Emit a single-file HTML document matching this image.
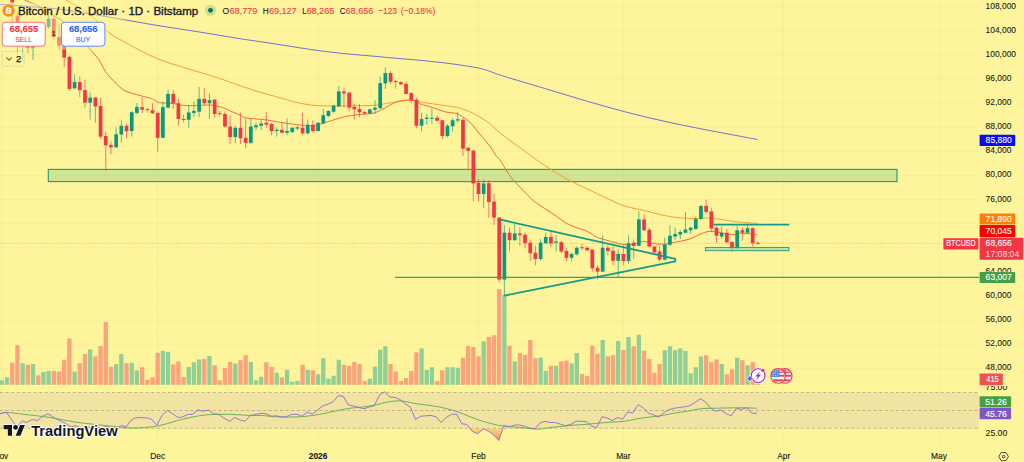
<!DOCTYPE html>
<html lang="en"><head><meta charset="utf-8"><title>BTCUSD chart</title>
<style>html,body{margin:0;padding:0;background:#fef49b;overflow:hidden}svg{display:block}text{white-space:pre}</style>
</head><body>
<svg width="1024" height="462" viewBox="0 0 1024 462" font-family='"Liberation Sans", sans-serif'>
<rect width="1024" height="462" fill="#fef49b"/>
<line x1="0" x2="979.3" y1="368.40" y2="368.40" stroke="rgba(120,100,0,0.06)" stroke-width="0.8"/>
<line x1="0" x2="979.3" y1="344.28" y2="344.28" stroke="rgba(120,100,0,0.06)" stroke-width="0.8"/>
<line x1="0" x2="979.3" y1="320.16" y2="320.16" stroke="rgba(120,100,0,0.06)" stroke-width="0.8"/>
<line x1="0" x2="979.3" y1="296.04" y2="296.04" stroke="rgba(120,100,0,0.06)" stroke-width="0.8"/>
<line x1="0" x2="979.3" y1="271.92" y2="271.92" stroke="rgba(120,100,0,0.06)" stroke-width="0.8"/>
<line x1="0" x2="979.3" y1="247.80" y2="247.80" stroke="rgba(120,100,0,0.06)" stroke-width="0.8"/>
<line x1="0" x2="979.3" y1="223.68" y2="223.68" stroke="rgba(120,100,0,0.06)" stroke-width="0.8"/>
<line x1="0" x2="979.3" y1="199.56" y2="199.56" stroke="rgba(120,100,0,0.06)" stroke-width="0.8"/>
<line x1="0" x2="979.3" y1="175.44" y2="175.44" stroke="rgba(120,100,0,0.06)" stroke-width="0.8"/>
<line x1="0" x2="979.3" y1="151.32" y2="151.32" stroke="rgba(120,100,0,0.06)" stroke-width="0.8"/>
<line x1="0" x2="979.3" y1="127.20" y2="127.20" stroke="rgba(120,100,0,0.06)" stroke-width="0.8"/>
<line x1="0" x2="979.3" y1="103.08" y2="103.08" stroke="rgba(120,100,0,0.06)" stroke-width="0.8"/>
<line x1="0" x2="979.3" y1="78.96" y2="78.96" stroke="rgba(120,100,0,0.06)" stroke-width="0.8"/>
<line x1="0" x2="979.3" y1="54.84" y2="54.84" stroke="rgba(120,100,0,0.06)" stroke-width="0.8"/>
<line x1="0" x2="979.3" y1="30.72" y2="30.72" stroke="rgba(120,100,0,0.06)" stroke-width="0.8"/>
<line x1="0" x2="979.3" y1="6.60" y2="6.60" stroke="rgba(120,100,0,0.06)" stroke-width="0.8"/>
<line x1="1.85" x2="1.85" y1="0" y2="446" stroke="rgba(120,100,0,0.06)" stroke-width="0.8"/>
<line x1="157.70" x2="157.70" y1="0" y2="446" stroke="rgba(120,100,0,0.06)" stroke-width="0.8"/>
<line x1="318.09" x2="318.09" y1="0" y2="446" stroke="rgba(120,100,0,0.06)" stroke-width="0.8"/>
<line x1="478.49" x2="478.49" y1="0" y2="446" stroke="rgba(120,100,0,0.06)" stroke-width="0.8"/>
<line x1="623.36" x2="623.36" y1="0" y2="446" stroke="rgba(120,100,0,0.06)" stroke-width="0.8"/>
<line x1="783.75" x2="783.75" y1="0" y2="446" stroke="rgba(120,100,0,0.06)" stroke-width="0.8"/>
<line x1="938.97" x2="938.97" y1="0" y2="446" stroke="rgba(120,100,0,0.06)" stroke-width="0.8"/>
<rect x="0" y="392.5" width="979.3" height="35.8" fill="#e9d9a6" fill-opacity="0.62"/>
<line x1="0" x2="979.3" y1="392.50" y2="392.50" stroke="#96927b" stroke-width="0.6" stroke-dasharray="3 2.6"/>
<line x1="0" x2="979.3" y1="410.50" y2="410.50" stroke="#96927b" stroke-width="0.6" stroke-dasharray="3 2.6"/>
<line x1="0" x2="979.3" y1="428.30" y2="428.30" stroke="#96927b" stroke-width="0.6" stroke-dasharray="3 2.6"/>
<rect x="-0.30" y="380.32" width="4.3" height="4.48" fill="#22ab94" fill-opacity="0.5"/>
<rect x="4.89" y="377.31" width="4.3" height="7.49" fill="#22ab94" fill-opacity="0.5"/>
<rect x="10.09" y="362.75" width="4.3" height="22.05" fill="#f7525f" fill-opacity="0.5"/>
<rect x="15.28" y="345.18" width="4.3" height="39.62" fill="#f7525f" fill-opacity="0.5"/>
<rect x="20.48" y="363.25" width="4.3" height="21.55" fill="#22ab94" fill-opacity="0.5"/>
<rect x="25.67" y="364.76" width="4.3" height="20.04" fill="#f7525f" fill-opacity="0.5"/>
<rect x="30.87" y="364.01" width="4.3" height="20.79" fill="#22ab94" fill-opacity="0.5"/>
<rect x="36.06" y="375.30" width="4.3" height="9.50" fill="#f7525f" fill-opacity="0.5"/>
<rect x="41.26" y="372.04" width="4.3" height="12.76" fill="#22ab94" fill-opacity="0.5"/>
<rect x="46.45" y="371.03" width="4.3" height="13.77" fill="#22ab94" fill-opacity="0.5"/>
<rect x="51.65" y="371.03" width="4.3" height="13.77" fill="#f7525f" fill-opacity="0.5"/>
<rect x="56.84" y="371.54" width="4.3" height="13.26" fill="#f7525f" fill-opacity="0.5"/>
<rect x="62.04" y="359.74" width="4.3" height="25.06" fill="#f7525f" fill-opacity="0.5"/>
<rect x="67.23" y="338.40" width="4.3" height="46.40" fill="#f7525f" fill-opacity="0.5"/>
<rect x="72.43" y="371.54" width="4.3" height="13.26" fill="#22ab94" fill-opacity="0.5"/>
<rect x="77.62" y="363.25" width="4.3" height="21.55" fill="#f7525f" fill-opacity="0.5"/>
<rect x="82.82" y="353.97" width="4.3" height="30.83" fill="#f7525f" fill-opacity="0.5"/>
<rect x="88.01" y="349.45" width="4.3" height="35.35" fill="#22ab94" fill-opacity="0.5"/>
<rect x="93.21" y="356.48" width="4.3" height="28.32" fill="#f7525f" fill-opacity="0.5"/>
<rect x="98.40" y="345.93" width="4.3" height="38.87" fill="#f7525f" fill-opacity="0.5"/>
<rect x="103.60" y="322.09" width="4.3" height="62.71" fill="#f7525f" fill-opacity="0.5"/>
<rect x="108.79" y="366.77" width="4.3" height="18.03" fill="#f7525f" fill-opacity="0.5"/>
<rect x="113.99" y="364.01" width="4.3" height="20.79" fill="#22ab94" fill-opacity="0.5"/>
<rect x="119.18" y="353.97" width="4.3" height="30.83" fill="#22ab94" fill-opacity="0.5"/>
<rect x="124.38" y="363.25" width="4.3" height="21.55" fill="#f7525f" fill-opacity="0.5"/>
<rect x="129.57" y="362.75" width="4.3" height="22.05" fill="#22ab94" fill-opacity="0.5"/>
<rect x="134.77" y="370.28" width="4.3" height="14.52" fill="#22ab94" fill-opacity="0.5"/>
<rect x="139.96" y="367.27" width="4.3" height="17.53" fill="#f7525f" fill-opacity="0.5"/>
<rect x="145.16" y="379.82" width="4.3" height="4.98" fill="#f7525f" fill-opacity="0.5"/>
<rect x="150.35" y="377.31" width="4.3" height="7.49" fill="#f7525f" fill-opacity="0.5"/>
<rect x="155.55" y="352.96" width="4.3" height="31.84" fill="#f7525f" fill-opacity="0.5"/>
<rect x="160.72" y="350.95" width="4.3" height="33.85" fill="#22ab94" fill-opacity="0.5"/>
<rect x="165.90" y="351.96" width="4.3" height="32.84" fill="#22ab94" fill-opacity="0.5"/>
<rect x="171.07" y="364.51" width="4.3" height="20.29" fill="#f7525f" fill-opacity="0.5"/>
<rect x="176.25" y="361.50" width="4.3" height="23.30" fill="#f7525f" fill-opacity="0.5"/>
<rect x="181.42" y="377.06" width="4.3" height="7.74" fill="#f7525f" fill-opacity="0.5"/>
<rect x="186.59" y="367.02" width="4.3" height="17.78" fill="#22ab94" fill-opacity="0.5"/>
<rect x="191.77" y="362.25" width="4.3" height="22.55" fill="#22ab94" fill-opacity="0.5"/>
<rect x="196.94" y="359.49" width="4.3" height="25.31" fill="#22ab94" fill-opacity="0.5"/>
<rect x="202.12" y="358.99" width="4.3" height="25.81" fill="#f7525f" fill-opacity="0.5"/>
<rect x="207.29" y="355.97" width="4.3" height="28.83" fill="#22ab94" fill-opacity="0.5"/>
<rect x="212.46" y="365.26" width="4.3" height="19.54" fill="#f7525f" fill-opacity="0.5"/>
<rect x="217.64" y="380.32" width="4.3" height="4.48" fill="#f7525f" fill-opacity="0.5"/>
<rect x="222.81" y="368.02" width="4.3" height="16.78" fill="#f7525f" fill-opacity="0.5"/>
<rect x="227.99" y="362.00" width="4.3" height="22.80" fill="#f7525f" fill-opacity="0.5"/>
<rect x="233.16" y="363.50" width="4.3" height="21.30" fill="#22ab94" fill-opacity="0.5"/>
<rect x="238.33" y="360.24" width="4.3" height="24.56" fill="#f7525f" fill-opacity="0.5"/>
<rect x="243.51" y="355.22" width="4.3" height="29.58" fill="#f7525f" fill-opacity="0.5"/>
<rect x="248.68" y="362.00" width="4.3" height="22.80" fill="#22ab94" fill-opacity="0.5"/>
<rect x="253.86" y="380.32" width="4.3" height="4.48" fill="#22ab94" fill-opacity="0.5"/>
<rect x="259.03" y="376.81" width="4.3" height="7.99" fill="#22ab94" fill-opacity="0.5"/>
<rect x="264.20" y="362.25" width="4.3" height="22.55" fill="#f7525f" fill-opacity="0.5"/>
<rect x="269.38" y="367.02" width="4.3" height="17.78" fill="#f7525f" fill-opacity="0.5"/>
<rect x="274.55" y="372.79" width="4.3" height="12.01" fill="#22ab94" fill-opacity="0.5"/>
<rect x="279.73" y="377.31" width="4.3" height="7.49" fill="#f7525f" fill-opacity="0.5"/>
<rect x="284.90" y="369.78" width="4.3" height="15.02" fill="#22ab94" fill-opacity="0.5"/>
<rect x="290.07" y="381.58" width="4.3" height="3.22" fill="#22ab94" fill-opacity="0.5"/>
<rect x="295.25" y="380.82" width="4.3" height="3.98" fill="#22ab94" fill-opacity="0.5"/>
<rect x="300.42" y="364.76" width="4.3" height="20.04" fill="#f7525f" fill-opacity="0.5"/>
<rect x="305.60" y="369.78" width="4.3" height="15.02" fill="#22ab94" fill-opacity="0.5"/>
<rect x="310.77" y="370.28" width="4.3" height="14.52" fill="#f7525f" fill-opacity="0.5"/>
<rect x="315.94" y="374.30" width="4.3" height="10.50" fill="#22ab94" fill-opacity="0.5"/>
<rect x="321.12" y="358.23" width="4.3" height="26.57" fill="#22ab94" fill-opacity="0.5"/>
<rect x="326.29" y="378.56" width="4.3" height="6.24" fill="#22ab94" fill-opacity="0.5"/>
<rect x="331.47" y="375.80" width="4.3" height="9.00" fill="#22ab94" fill-opacity="0.5"/>
<rect x="336.64" y="359.74" width="4.3" height="25.06" fill="#22ab94" fill-opacity="0.5"/>
<rect x="341.81" y="364.76" width="4.3" height="20.04" fill="#f7525f" fill-opacity="0.5"/>
<rect x="346.99" y="366.01" width="4.3" height="18.79" fill="#f7525f" fill-opacity="0.5"/>
<rect x="352.16" y="362.00" width="4.3" height="22.80" fill="#f7525f" fill-opacity="0.5"/>
<rect x="357.34" y="364.01" width="4.3" height="20.79" fill="#f7525f" fill-opacity="0.5"/>
<rect x="362.51" y="381.07" width="4.3" height="3.73" fill="#f7525f" fill-opacity="0.5"/>
<rect x="367.68" y="378.56" width="4.3" height="6.24" fill="#22ab94" fill-opacity="0.5"/>
<rect x="372.86" y="366.77" width="4.3" height="18.03" fill="#22ab94" fill-opacity="0.5"/>
<rect x="378.03" y="349.70" width="4.3" height="35.10" fill="#22ab94" fill-opacity="0.5"/>
<rect x="383.21" y="346.18" width="4.3" height="38.62" fill="#22ab94" fill-opacity="0.5"/>
<rect x="388.38" y="364.01" width="4.3" height="20.79" fill="#f7525f" fill-opacity="0.5"/>
<rect x="393.55" y="371.54" width="4.3" height="13.26" fill="#f7525f" fill-opacity="0.5"/>
<rect x="398.73" y="381.07" width="4.3" height="3.73" fill="#f7525f" fill-opacity="0.5"/>
<rect x="403.90" y="378.06" width="4.3" height="6.74" fill="#f7525f" fill-opacity="0.5"/>
<rect x="409.08" y="371.03" width="4.3" height="13.77" fill="#f7525f" fill-opacity="0.5"/>
<rect x="414.25" y="352.46" width="4.3" height="32.34" fill="#f7525f" fill-opacity="0.5"/>
<rect x="419.42" y="348.44" width="4.3" height="36.36" fill="#22ab94" fill-opacity="0.5"/>
<rect x="424.60" y="370.03" width="4.3" height="14.77" fill="#22ab94" fill-opacity="0.5"/>
<rect x="429.77" y="367.27" width="4.3" height="17.53" fill="#22ab94" fill-opacity="0.5"/>
<rect x="434.95" y="381.07" width="4.3" height="3.73" fill="#f7525f" fill-opacity="0.5"/>
<rect x="440.12" y="370.28" width="4.3" height="14.52" fill="#f7525f" fill-opacity="0.5"/>
<rect x="445.29" y="367.27" width="4.3" height="17.53" fill="#22ab94" fill-opacity="0.5"/>
<rect x="450.47" y="367.27" width="4.3" height="17.53" fill="#22ab94" fill-opacity="0.5"/>
<rect x="455.64" y="367.77" width="4.3" height="17.03" fill="#22ab94" fill-opacity="0.5"/>
<rect x="460.82" y="357.73" width="4.3" height="27.07" fill="#f7525f" fill-opacity="0.5"/>
<rect x="465.99" y="345.93" width="4.3" height="38.87" fill="#f7525f" fill-opacity="0.5"/>
<rect x="471.16" y="347.03" width="4.3" height="37.77" fill="#f7525f" fill-opacity="0.5"/>
<rect x="476.34" y="356.32" width="4.3" height="28.48" fill="#f7525f" fill-opacity="0.5"/>
<rect x="481.51" y="341.26" width="4.3" height="43.54" fill="#22ab94" fill-opacity="0.5"/>
<rect x="486.69" y="336.99" width="4.3" height="47.81" fill="#f7525f" fill-opacity="0.5"/>
<rect x="491.86" y="335.24" width="4.3" height="49.56" fill="#f7525f" fill-opacity="0.5"/>
<rect x="497.03" y="289.05" width="4.3" height="95.75" fill="#f7525f" fill-opacity="0.5"/>
<rect x="502.21" y="294.83" width="4.3" height="89.97" fill="#22ab94" fill-opacity="0.5"/>
<rect x="507.38" y="345.78" width="4.3" height="39.02" fill="#f7525f" fill-opacity="0.5"/>
<rect x="512.56" y="361.34" width="4.3" height="23.46" fill="#22ab94" fill-opacity="0.5"/>
<rect x="517.73" y="353.06" width="4.3" height="31.74" fill="#f7525f" fill-opacity="0.5"/>
<rect x="522.90" y="354.82" width="4.3" height="29.98" fill="#f7525f" fill-opacity="0.5"/>
<rect x="528.08" y="340.01" width="4.3" height="44.79" fill="#f7525f" fill-opacity="0.5"/>
<rect x="533.25" y="358.33" width="4.3" height="26.47" fill="#f7525f" fill-opacity="0.5"/>
<rect x="538.43" y="357.58" width="4.3" height="27.22" fill="#22ab94" fill-opacity="0.5"/>
<rect x="543.60" y="370.88" width="4.3" height="13.92" fill="#22ab94" fill-opacity="0.5"/>
<rect x="548.77" y="365.86" width="4.3" height="18.94" fill="#f7525f" fill-opacity="0.5"/>
<rect x="553.95" y="365.86" width="4.3" height="18.94" fill="#22ab94" fill-opacity="0.5"/>
<rect x="559.12" y="361.34" width="4.3" height="23.46" fill="#f7525f" fill-opacity="0.5"/>
<rect x="564.30" y="360.59" width="4.3" height="24.21" fill="#f7525f" fill-opacity="0.5"/>
<rect x="569.47" y="363.35" width="4.3" height="21.45" fill="#22ab94" fill-opacity="0.5"/>
<rect x="574.64" y="353.06" width="4.3" height="31.74" fill="#22ab94" fill-opacity="0.5"/>
<rect x="579.82" y="374.14" width="4.3" height="10.66" fill="#f7525f" fill-opacity="0.5"/>
<rect x="584.99" y="375.90" width="4.3" height="8.90" fill="#f7525f" fill-opacity="0.5"/>
<rect x="590.17" y="345.53" width="4.3" height="39.27" fill="#f7525f" fill-opacity="0.5"/>
<rect x="595.34" y="353.81" width="4.3" height="30.99" fill="#f7525f" fill-opacity="0.5"/>
<rect x="600.51" y="340.01" width="4.3" height="44.79" fill="#22ab94" fill-opacity="0.5"/>
<rect x="605.69" y="356.32" width="4.3" height="28.48" fill="#f7525f" fill-opacity="0.5"/>
<rect x="610.86" y="355.07" width="4.3" height="29.73" fill="#f7525f" fill-opacity="0.5"/>
<rect x="616.04" y="341.01" width="4.3" height="43.79" fill="#22ab94" fill-opacity="0.5"/>
<rect x="621.21" y="350.05" width="4.3" height="34.75" fill="#f7525f" fill-opacity="0.5"/>
<rect x="626.38" y="336.99" width="4.3" height="47.81" fill="#22ab94" fill-opacity="0.5"/>
<rect x="631.56" y="346.28" width="4.3" height="38.52" fill="#f7525f" fill-opacity="0.5"/>
<rect x="636.73" y="334.73" width="4.3" height="50.07" fill="#22ab94" fill-opacity="0.5"/>
<rect x="641.91" y="350.80" width="4.3" height="34.00" fill="#f7525f" fill-opacity="0.5"/>
<rect x="647.08" y="358.99" width="4.3" height="25.81" fill="#f7525f" fill-opacity="0.5"/>
<rect x="652.25" y="372.79" width="4.3" height="12.01" fill="#f7525f" fill-opacity="0.5"/>
<rect x="657.43" y="364.01" width="4.3" height="20.79" fill="#f7525f" fill-opacity="0.5"/>
<rect x="662.60" y="350.20" width="4.3" height="34.60" fill="#22ab94" fill-opacity="0.5"/>
<rect x="667.78" y="346.18" width="4.3" height="38.62" fill="#22ab94" fill-opacity="0.5"/>
<rect x="672.95" y="350.20" width="4.3" height="34.60" fill="#22ab94" fill-opacity="0.5"/>
<rect x="678.12" y="348.44" width="4.3" height="36.36" fill="#22ab94" fill-opacity="0.5"/>
<rect x="683.30" y="350.95" width="4.3" height="33.85" fill="#22ab94" fill-opacity="0.5"/>
<rect x="688.47" y="373.29" width="4.3" height="11.51" fill="#22ab94" fill-opacity="0.5"/>
<rect x="693.65" y="367.27" width="4.3" height="17.53" fill="#22ab94" fill-opacity="0.5"/>
<rect x="698.82" y="356.48" width="4.3" height="28.32" fill="#22ab94" fill-opacity="0.5"/>
<rect x="703.99" y="355.22" width="4.3" height="29.58" fill="#f7525f" fill-opacity="0.5"/>
<rect x="709.17" y="362.25" width="4.3" height="22.55" fill="#f7525f" fill-opacity="0.5"/>
<rect x="714.34" y="359.49" width="4.3" height="25.31" fill="#f7525f" fill-opacity="0.5"/>
<rect x="719.52" y="364.01" width="4.3" height="20.79" fill="#22ab94" fill-opacity="0.5"/>
<rect x="724.69" y="374.30" width="4.3" height="10.50" fill="#f7525f" fill-opacity="0.5"/>
<rect x="729.86" y="369.28" width="4.3" height="15.52" fill="#f7525f" fill-opacity="0.5"/>
<rect x="735.04" y="357.73" width="4.3" height="27.07" fill="#22ab94" fill-opacity="0.5"/>
<rect x="740.21" y="360.24" width="4.3" height="24.56" fill="#f7525f" fill-opacity="0.5"/>
<rect x="745.39" y="365.26" width="4.3" height="19.54" fill="#22ab94" fill-opacity="0.5"/>
<rect x="750.56" y="362.25" width="4.3" height="22.55" fill="#f7525f" fill-opacity="0.5"/>
<rect x="755.73" y="383.58" width="4.3" height="1.22" fill="#f7525f" fill-opacity="0.5"/>
<rect x="0" y="385.0" width="1024" height="0.8" fill="#f7f3d6"/>
<rect x="48.3" y="169.4" width="848.7" height="12.2" fill="#7cc47f" fill-opacity="0.34" stroke="#1f9a80" stroke-width="1.1"/>
<path d="M0.00 4.40 C5.00 4.77 19.55 5.73 30.00 6.60 C40.45 7.47 52.70 8.38 62.70 9.60 C72.70 10.82 80.78 12.40 90.00 13.90 C99.22 15.40 106.83 16.68 118.00 18.60 C129.17 20.52 143.33 23.15 157.00 25.40 C170.67 27.65 186.17 29.88 200.00 32.10 C213.83 34.32 229.55 37.05 240.00 38.70 C250.45 40.35 248.45 39.87 262.70 42.00 C276.95 44.13 305.95 49.03 325.50 51.50 C345.05 53.97 367.58 55.62 380.00 56.80 C392.42 57.98 393.67 58.05 400.00 58.60 C406.33 59.15 411.33 59.47 418.00 60.10 C424.67 60.73 432.62 61.53 440.00 62.40 C447.38 63.27 455.17 64.18 462.30 65.30 C469.43 66.42 475.95 67.30 482.80 69.10 C489.65 70.90 493.12 72.88 503.40 76.10 C513.68 79.32 530.78 84.28 544.50 88.40 C558.22 92.52 571.98 96.82 585.70 100.80 C599.42 104.78 613.08 108.75 626.80 112.30 C640.52 115.85 654.28 119.08 668.00 122.10 C681.72 125.12 694.17 127.50 709.10 130.40 C724.03 133.30 749.52 137.98 757.60 139.50" fill="none" stroke="#7070d4" stroke-width="1"/>
<path d="M65.40 0.00 C69.30 2.28 81.63 8.33 88.80 13.70 C95.97 19.07 101.88 27.17 108.40 32.20 C114.92 37.23 119.77 39.50 127.90 43.90 C136.03 48.30 147.18 54.45 157.20 58.60 C167.22 62.75 178.70 65.85 188.00 68.80 C197.30 71.75 204.58 73.58 213.00 76.30 C221.42 79.02 231.33 82.65 238.50 85.10 C245.67 87.55 249.92 89.12 256.00 91.00 C262.08 92.88 267.67 94.37 275.00 96.40 C282.33 98.43 292.50 101.65 300.00 103.20 C307.50 104.75 311.67 105.25 320.00 105.70 C328.33 106.15 340.75 105.98 350.00 105.90 C359.25 105.82 368.73 105.73 375.50 105.20 C382.27 104.67 384.75 103.53 390.60 102.70 C396.45 101.87 405.70 100.33 410.60 100.20 C415.50 100.07 416.35 101.30 420.00 101.90 C423.65 102.50 428.32 103.18 432.50 103.80 C436.68 104.42 440.92 104.97 445.10 105.60 C449.28 106.23 453.42 106.55 457.60 107.60 C461.78 108.65 466.02 110.03 470.20 111.90 C474.38 113.77 479.35 116.78 482.70 118.80 C486.05 120.82 487.78 121.97 490.30 124.00 C492.82 126.03 494.88 128.52 497.80 131.00 C500.72 133.48 504.03 136.08 507.80 138.90 C511.57 141.72 516.22 144.83 520.40 147.90 C524.58 150.97 528.88 154.42 532.90 157.30 C536.92 160.18 539.13 161.72 544.50 165.20 C549.87 168.68 558.23 174.37 565.10 178.20 C571.97 182.03 578.22 184.60 585.70 188.20 C593.18 191.80 603.87 196.93 610.00 199.80 C616.13 202.67 618.32 203.93 622.50 205.40 C626.68 206.87 630.92 207.62 635.10 208.60 C639.28 209.58 643.42 210.30 647.60 211.30 C651.78 212.30 656.02 213.65 660.20 214.60 C664.38 215.55 668.52 216.40 672.70 217.00 C676.88 217.60 681.12 217.93 685.30 218.20 C689.48 218.47 694.03 218.63 697.80 218.60 C701.57 218.57 704.75 217.97 707.90 218.00 C711.05 218.03 713.78 218.45 716.70 218.80 C719.62 219.15 721.85 219.57 725.40 220.10 C728.95 220.63 732.68 221.45 738.00 222.00 C743.32 222.55 754.08 223.17 757.30 223.40" fill="none" stroke="#f7a034" stroke-width="1"/>
<path d="M24.50 0.00 C27.08 1.17 34.25 3.87 40.00 7.00 C45.75 10.13 53.17 14.80 59.00 18.80 C64.83 22.80 70.17 26.30 75.00 31.00 C79.83 35.70 84.07 42.27 88.00 47.00 C91.93 51.73 95.73 55.35 98.60 59.40 C101.47 63.45 103.27 68.32 105.20 71.30 C107.13 74.28 108.32 75.18 110.20 77.30 C112.08 79.42 114.42 81.98 116.50 84.00 C118.58 86.02 120.82 88.07 122.70 89.40 C124.58 90.73 125.70 91.20 127.80 92.00 C129.90 92.80 132.80 93.48 135.30 94.20 C137.80 94.92 140.30 95.63 142.80 96.30 C145.30 96.97 148.42 97.60 150.30 98.20 C152.18 98.80 152.83 99.23 154.10 99.90 C155.37 100.57 156.75 101.70 157.90 102.20 C159.05 102.70 159.55 102.75 161.00 102.90 C162.45 103.05 164.15 102.93 166.60 103.10 C169.05 103.27 173.47 103.57 175.70 103.90 C177.93 104.23 177.20 104.80 180.00 105.10 C182.80 105.40 188.32 105.70 192.50 105.70 C196.68 105.70 201.75 105.17 205.10 105.10 C208.45 105.03 209.67 104.88 212.60 105.30 C215.53 105.72 219.35 106.48 222.70 107.60 C226.05 108.72 229.78 110.75 232.70 112.00 C235.62 113.25 238.12 114.15 240.20 115.10 C242.28 116.05 242.68 117.07 245.20 117.70 C247.72 118.33 251.53 118.50 255.30 118.90 C259.07 119.30 263.62 119.52 267.80 120.10 C271.98 120.68 276.22 121.73 280.40 122.40 C284.58 123.07 288.30 123.57 292.90 124.10 C297.50 124.63 303.85 125.48 308.00 125.60 C312.15 125.72 313.67 125.70 317.80 124.80 C321.93 123.90 328.20 121.58 332.80 120.20 C337.40 118.82 341.20 117.42 345.40 116.50 C349.60 115.58 353.40 115.25 358.00 114.70 C362.60 114.15 368.83 114.15 373.00 113.20 C377.17 112.25 379.23 110.83 383.00 109.00 C386.77 107.17 391.83 103.67 395.60 102.20 C399.37 100.73 402.25 100.45 405.60 100.20 C408.95 99.95 413.30 100.10 415.70 100.70 C418.10 101.30 417.20 102.67 420.00 103.80 C422.80 104.93 428.32 106.15 432.50 107.50 C436.68 108.85 441.12 110.92 445.10 111.90 C449.08 112.88 453.47 112.57 456.40 113.40 C459.33 114.23 460.40 115.37 462.70 116.90 C465.00 118.43 467.90 120.40 470.20 122.60 C472.50 124.80 474.42 127.60 476.50 130.10 C478.58 132.60 480.40 134.85 482.70 137.60 C485.00 140.35 488.00 143.45 490.30 146.60 C492.60 149.75 494.85 154.25 496.50 156.50 C498.15 158.75 497.90 156.78 500.20 160.10 C502.50 163.42 506.53 171.38 510.30 176.40 C514.07 181.42 519.07 186.27 522.80 190.20 C526.53 194.13 529.80 197.43 532.70 200.00 C535.60 202.57 537.48 203.72 540.20 205.60 C542.92 207.48 546.28 209.52 549.00 211.30 C551.72 213.08 553.78 214.42 556.50 216.30 C559.22 218.18 562.58 220.93 565.30 222.60 C568.02 224.27 570.30 225.25 572.80 226.30 C575.30 227.35 577.78 228.02 580.30 228.90 C582.82 229.78 585.17 230.22 587.90 231.60 C590.63 232.98 594.20 235.95 596.70 237.20 C599.20 238.45 600.60 238.40 602.90 239.10 C605.20 239.80 608.07 240.70 610.50 241.40 C612.93 242.10 615.08 242.77 617.50 243.30 C619.92 243.83 622.48 244.38 625.00 244.60 C627.52 244.82 629.87 245.10 632.60 244.60 C635.33 244.10 638.90 242.03 641.40 241.60 C643.90 241.17 645.30 241.65 647.60 242.00 C649.90 242.35 652.68 243.33 655.20 243.70 C657.72 244.07 660.20 244.27 662.70 244.20 C665.20 244.13 667.68 243.72 670.20 243.30 C672.72 242.88 675.28 242.22 677.80 241.70 C680.32 241.18 682.80 240.87 685.30 240.20 C687.80 239.53 690.30 238.72 692.80 237.70 C695.30 236.68 698.00 235.08 700.30 234.10 C702.60 233.12 704.72 232.25 706.60 231.80 C708.48 231.35 709.50 231.30 711.60 231.40 C713.70 231.50 716.48 231.95 719.20 232.40 C721.92 232.85 725.18 233.75 727.90 234.10 C730.62 234.45 733.42 234.63 735.50 234.50 C737.58 234.37 737.48 233.38 740.40 233.30 C743.32 233.22 750.18 233.75 753.00 234.00 C755.82 234.25 756.58 234.67 757.30 234.80" fill="none" stroke="#f26d38" stroke-width="1"/>
<line x1="0" x2="979.3" y1="243.4" y2="243.4" stroke="#f23645" stroke-width="0.7" stroke-dasharray="0.7 1.5" stroke-opacity="0.55"/>
<line x1="7.04" x2="7.04" y1="24.00" y2="38.00" stroke="#089981" stroke-width="0.95" stroke-opacity="0.68"/>
<rect x="5.19" y="26.00" width="3.7" height="8.00" fill="#089981"/>
<line x1="12.24" x2="12.24" y1="-8.00" y2="22.00" stroke="#f23645" stroke-width="0.95" stroke-opacity="0.68"/>
<rect x="10.39" y="-6.00" width="3.7" height="8.30" fill="#f23645"/>
<line x1="17.43" x2="17.43" y1="12.00" y2="55.00" stroke="#f23645" stroke-width="0.95" stroke-opacity="0.68"/>
<rect x="15.58" y="15.70" width="3.7" height="20.30" fill="#f23645"/>
<line x1="22.63" x2="22.63" y1="26.00" y2="60.70" stroke="#089981" stroke-width="0.95" stroke-opacity="0.68"/>
<rect x="20.78" y="30.00" width="3.7" height="14.00" fill="#089981"/>
<line x1="27.82" x2="27.82" y1="36.00" y2="53.20" stroke="#f23645" stroke-width="0.95" stroke-opacity="0.68"/>
<rect x="25.97" y="40.00" width="3.7" height="8.20" fill="#f23645"/>
<line x1="33.02" x2="33.02" y1="34.00" y2="59.80" stroke="#089981" stroke-width="0.95" stroke-opacity="0.68"/>
<rect x="31.17" y="38.00" width="3.7" height="10.50" fill="#089981"/>
<line x1="38.21" x2="38.21" y1="26.00" y2="44.00" stroke="#f23645" stroke-width="0.95" stroke-opacity="0.68"/>
<rect x="36.36" y="30.00" width="3.7" height="10.00" fill="#f23645"/>
<line x1="43.41" x2="43.41" y1="24.00" y2="40.00" stroke="#089981" stroke-width="0.95" stroke-opacity="0.68"/>
<rect x="41.56" y="26.00" width="3.7" height="8.00" fill="#089981"/>
<line x1="48.60" x2="48.60" y1="15.00" y2="28.90" stroke="#089981" stroke-width="0.95" stroke-opacity="0.68"/>
<rect x="46.75" y="18.80" width="3.7" height="8.20" fill="#089981"/>
<line x1="53.80" x2="53.80" y1="15.70" y2="40.00" stroke="#f23645" stroke-width="0.95" stroke-opacity="0.68"/>
<rect x="51.95" y="18.80" width="3.7" height="18.20" fill="#f23645"/>
<line x1="58.99" x2="58.99" y1="23.20" y2="49.60" stroke="#f23645" stroke-width="0.95" stroke-opacity="0.68"/>
<rect x="57.14" y="37.00" width="3.7" height="8.80" fill="#f23645"/>
<line x1="64.19" x2="64.19" y1="44.00" y2="67.00" stroke="#f23645" stroke-width="0.95" stroke-opacity="0.68"/>
<rect x="62.34" y="45.80" width="3.7" height="11.80" fill="#f23645"/>
<line x1="69.38" x2="69.38" y1="55.70" y2="90.80" stroke="#f23645" stroke-width="0.95" stroke-opacity="0.68"/>
<rect x="67.53" y="56.90" width="3.7" height="32.00" fill="#f23645"/>
<line x1="74.58" x2="74.58" y1="74.56" y2="88.87" stroke="#089981" stroke-width="0.95" stroke-opacity="0.68"/>
<rect x="72.73" y="82.09" width="3.7" height="6.28" fill="#089981"/>
<line x1="79.77" x2="79.77" y1="76.32" y2="96.90" stroke="#f23645" stroke-width="0.95" stroke-opacity="0.68"/>
<rect x="77.92" y="82.09" width="3.7" height="8.03" fill="#f23645"/>
<line x1="84.97" x2="84.97" y1="80.08" y2="107.69" stroke="#f23645" stroke-width="0.95" stroke-opacity="0.68"/>
<rect x="83.12" y="90.12" width="3.7" height="12.55" fill="#f23645"/>
<line x1="90.16" x2="90.16" y1="92.63" y2="119.49" stroke="#089981" stroke-width="0.95" stroke-opacity="0.68"/>
<rect x="88.31" y="97.65" width="3.7" height="5.02" fill="#089981"/>
<line x1="95.36" x2="95.36" y1="96.90" y2="122.75" stroke="#f23645" stroke-width="0.95" stroke-opacity="0.68"/>
<rect x="93.51" y="97.65" width="3.7" height="8.79" fill="#f23645"/>
<line x1="100.55" x2="100.55" y1="97.65" y2="139.07" stroke="#f23645" stroke-width="0.95" stroke-opacity="0.68"/>
<rect x="98.70" y="105.93" width="3.7" height="30.62" fill="#f23645"/>
<line x1="105.75" x2="105.75" y1="131.54" y2="170.44" stroke="#f23645" stroke-width="0.95" stroke-opacity="0.68"/>
<rect x="103.90" y="136.05" width="3.7" height="9.29" fill="#f23645"/>
<line x1="110.94" x2="110.94" y1="141.58" y2="154.13" stroke="#f23645" stroke-width="0.95" stroke-opacity="0.68"/>
<rect x="109.09" y="144.84" width="3.7" height="2.51" fill="#f23645"/>
<line x1="116.14" x2="116.14" y1="127.27" y2="147.85" stroke="#089981" stroke-width="0.95" stroke-opacity="0.68"/>
<rect x="114.29" y="134.30" width="3.7" height="13.05" fill="#089981"/>
<line x1="121.33" x2="121.33" y1="120.24" y2="142.83" stroke="#089981" stroke-width="0.95" stroke-opacity="0.68"/>
<rect x="119.48" y="125.76" width="3.7" height="8.79" fill="#089981"/>
<line x1="126.53" x2="126.53" y1="124.01" y2="138.31" stroke="#f23645" stroke-width="0.95" stroke-opacity="0.68"/>
<rect x="124.68" y="125.76" width="3.7" height="5.52" fill="#f23645"/>
<line x1="131.72" x2="131.72" y1="111.46" y2="136.56" stroke="#089981" stroke-width="0.95" stroke-opacity="0.68"/>
<rect x="129.88" y="112.21" width="3.7" height="18.83" fill="#089981"/>
<line x1="136.92" x2="136.92" y1="103.17" y2="113.97" stroke="#089981" stroke-width="0.95" stroke-opacity="0.68"/>
<rect x="135.07" y="106.94" width="3.7" height="6.02" fill="#089981"/>
<line x1="142.11" x2="142.11" y1="97.15" y2="113.21" stroke="#f23645" stroke-width="0.95" stroke-opacity="0.68"/>
<rect x="140.26" y="107.19" width="3.7" height="2.51" fill="#f23645"/>
<line x1="147.31" x2="147.31" y1="107.69" y2="112.71" stroke="#f23645" stroke-width="0.95" stroke-opacity="0.68"/>
<rect x="145.46" y="109.20" width="3.7" height="0.90" fill="#f23645"/>
<line x1="152.50" x2="152.50" y1="103.17" y2="113.97" stroke="#f23645" stroke-width="0.95" stroke-opacity="0.68"/>
<rect x="150.66" y="110.20" width="3.7" height="3.01" fill="#f23645"/>
<line x1="157.70" x2="157.70" y1="111.46" y2="151.62" stroke="#f23645" stroke-width="0.95" stroke-opacity="0.68"/>
<rect x="155.85" y="112.96" width="3.7" height="24.85" fill="#f23645"/>
<line x1="162.87" x2="162.87" y1="101.42" y2="138.31" stroke="#089981" stroke-width="0.95" stroke-opacity="0.68"/>
<rect x="161.02" y="107.19" width="3.7" height="30.62" fill="#089981"/>
<line x1="168.05" x2="168.05" y1="89.62" y2="108.19" stroke="#089981" stroke-width="0.95" stroke-opacity="0.68"/>
<rect x="166.20" y="93.89" width="3.7" height="13.81" fill="#089981"/>
<line x1="173.22" x2="173.22" y1="90.12" y2="108.95" stroke="#f23645" stroke-width="0.95" stroke-opacity="0.68"/>
<rect x="171.37" y="93.89" width="3.7" height="9.29" fill="#f23645"/>
<line x1="178.40" x2="178.40" y1="98.91" y2="125.76" stroke="#f23645" stroke-width="0.95" stroke-opacity="0.68"/>
<rect x="176.55" y="103.17" width="3.7" height="15.81" fill="#f23645"/>
<line x1="183.57" x2="183.57" y1="114.72" y2="122.25" stroke="#f23645" stroke-width="0.95" stroke-opacity="0.68"/>
<rect x="181.72" y="118.99" width="3.7" height="1.00" fill="#f23645"/>
<line x1="188.74" x2="188.74" y1="105.18" y2="127.77" stroke="#089981" stroke-width="0.95" stroke-opacity="0.68"/>
<rect x="186.89" y="112.46" width="3.7" height="7.28" fill="#089981"/>
<line x1="193.92" x2="193.92" y1="101.42" y2="117.23" stroke="#089981" stroke-width="0.95" stroke-opacity="0.68"/>
<rect x="192.07" y="110.95" width="3.7" height="2.01" fill="#089981"/>
<line x1="199.09" x2="199.09" y1="86.86" y2="117.23" stroke="#089981" stroke-width="0.95" stroke-opacity="0.68"/>
<rect x="197.24" y="98.91" width="3.7" height="12.80" fill="#089981"/>
<line x1="204.27" x2="204.27" y1="88.36" y2="105.18" stroke="#f23645" stroke-width="0.95" stroke-opacity="0.68"/>
<rect x="202.42" y="98.91" width="3.7" height="4.27" fill="#f23645"/>
<line x1="209.44" x2="209.44" y1="93.38" y2="118.99" stroke="#089981" stroke-width="0.95" stroke-opacity="0.68"/>
<rect x="207.59" y="100.16" width="3.7" height="3.01" fill="#089981"/>
<line x1="214.61" x2="214.61" y1="98.91" y2="117.73" stroke="#f23645" stroke-width="0.95" stroke-opacity="0.68"/>
<rect x="212.76" y="99.66" width="3.7" height="14.31" fill="#f23645"/>
<line x1="219.79" x2="219.79" y1="110.95" y2="116.48" stroke="#f23645" stroke-width="0.95" stroke-opacity="0.68"/>
<rect x="217.94" y="113.21" width="3.7" height="1.00" fill="#f23645"/>
<line x1="224.96" x2="224.96" y1="111.46" y2="127.77" stroke="#f23645" stroke-width="0.95" stroke-opacity="0.68"/>
<rect x="223.11" y="113.97" width="3.7" height="12.55" fill="#f23645"/>
<line x1="230.14" x2="230.14" y1="115.22" y2="144.09" stroke="#f23645" stroke-width="0.95" stroke-opacity="0.68"/>
<rect x="228.29" y="126.52" width="3.7" height="10.54" fill="#f23645"/>
<line x1="235.31" x2="235.31" y1="125.76" y2="143.33" stroke="#089981" stroke-width="0.95" stroke-opacity="0.68"/>
<rect x="233.46" y="127.77" width="3.7" height="9.29" fill="#089981"/>
<line x1="240.48" x2="240.48" y1="112.71" y2="144.09" stroke="#f23645" stroke-width="0.95" stroke-opacity="0.68"/>
<rect x="238.63" y="127.77" width="3.7" height="10.54" fill="#f23645"/>
<line x1="245.66" x2="245.66" y1="118.99" y2="148.35" stroke="#f23645" stroke-width="0.95" stroke-opacity="0.68"/>
<rect x="243.81" y="137.81" width="3.7" height="5.02" fill="#f23645"/>
<line x1="250.83" x2="250.83" y1="118.99" y2="144.09" stroke="#089981" stroke-width="0.95" stroke-opacity="0.68"/>
<rect x="248.98" y="126.52" width="3.7" height="16.32" fill="#089981"/>
<line x1="256.01" x2="256.01" y1="122.75" y2="130.28" stroke="#089981" stroke-width="0.95" stroke-opacity="0.68"/>
<rect x="254.16" y="125.26" width="3.7" height="2.01" fill="#089981"/>
<line x1="261.18" x2="261.18" y1="120.24" y2="129.78" stroke="#089981" stroke-width="0.95" stroke-opacity="0.68"/>
<rect x="259.33" y="123.50" width="3.7" height="2.26" fill="#089981"/>
<line x1="266.35" x2="266.35" y1="111.96" y2="127.77" stroke="#f23645" stroke-width="0.95" stroke-opacity="0.68"/>
<rect x="264.50" y="122.75" width="3.7" height="2.01" fill="#f23645"/>
<line x1="271.53" x2="271.53" y1="122.75" y2="135.30" stroke="#f23645" stroke-width="0.95" stroke-opacity="0.68"/>
<rect x="269.68" y="124.01" width="3.7" height="7.03" fill="#f23645"/>
<line x1="276.70" x2="276.70" y1="127.27" y2="136.56" stroke="#089981" stroke-width="0.95" stroke-opacity="0.68"/>
<rect x="274.85" y="129.78" width="3.7" height="1.26" fill="#089981"/>
<line x1="281.88" x2="281.88" y1="122.75" y2="133.29" stroke="#f23645" stroke-width="0.95" stroke-opacity="0.68"/>
<rect x="280.03" y="129.78" width="3.7" height="3.01" fill="#f23645"/>
<line x1="287.05" x2="287.05" y1="118.23" y2="135.30" stroke="#089981" stroke-width="0.95" stroke-opacity="0.68"/>
<rect x="285.20" y="131.03" width="3.7" height="1.76" fill="#089981"/>
<line x1="292.22" x2="292.22" y1="127.27" y2="132.79" stroke="#089981" stroke-width="0.95" stroke-opacity="0.68"/>
<rect x="290.37" y="127.77" width="3.7" height="4.27" fill="#089981"/>
<line x1="297.40" x2="297.40" y1="125.76" y2="130.28" stroke="#089981" stroke-width="0.95" stroke-opacity="0.68"/>
<rect x="295.55" y="127.27" width="3.7" height="1.26" fill="#089981"/>
<line x1="302.57" x2="302.57" y1="112.71" y2="135.30" stroke="#f23645" stroke-width="0.95" stroke-opacity="0.68"/>
<rect x="300.72" y="127.77" width="3.7" height="5.52" fill="#f23645"/>
<line x1="307.75" x2="307.75" y1="119.49" y2="134.80" stroke="#089981" stroke-width="0.95" stroke-opacity="0.68"/>
<rect x="305.90" y="124.76" width="3.7" height="8.53" fill="#089981"/>
<line x1="312.92" x2="312.92" y1="120.24" y2="132.79" stroke="#f23645" stroke-width="0.95" stroke-opacity="0.68"/>
<rect x="311.07" y="124.76" width="3.7" height="6.28" fill="#f23645"/>
<line x1="318.09" x2="318.09" y1="122.25" y2="131.54" stroke="#089981" stroke-width="0.95" stroke-opacity="0.68"/>
<rect x="316.24" y="122.75" width="3.7" height="8.28" fill="#089981"/>
<line x1="323.27" x2="323.27" y1="108.95" y2="124.01" stroke="#089981" stroke-width="0.95" stroke-opacity="0.68"/>
<rect x="321.42" y="115.22" width="3.7" height="8.03" fill="#089981"/>
<line x1="328.44" x2="328.44" y1="110.20" y2="117.23" stroke="#089981" stroke-width="0.95" stroke-opacity="0.68"/>
<rect x="326.59" y="110.95" width="3.7" height="5.02" fill="#089981"/>
<line x1="333.62" x2="333.62" y1="104.68" y2="112.71" stroke="#089981" stroke-width="0.95" stroke-opacity="0.68"/>
<rect x="331.77" y="105.68" width="3.7" height="6.02" fill="#089981"/>
<line x1="338.79" x2="338.79" y1="85.85" y2="107.19" stroke="#089981" stroke-width="0.95" stroke-opacity="0.68"/>
<rect x="336.94" y="91.38" width="3.7" height="15.06" fill="#089981"/>
<line x1="343.96" x2="343.96" y1="87.61" y2="107.69" stroke="#f23645" stroke-width="0.95" stroke-opacity="0.68"/>
<rect x="342.11" y="91.38" width="3.7" height="2.01" fill="#f23645"/>
<line x1="349.14" x2="349.14" y1="91.88" y2="111.46" stroke="#f23645" stroke-width="0.95" stroke-opacity="0.68"/>
<rect x="347.29" y="92.63" width="3.7" height="15.06" fill="#f23645"/>
<line x1="354.31" x2="354.31" y1="103.93" y2="119.74" stroke="#f23645" stroke-width="0.95" stroke-opacity="0.68"/>
<rect x="352.46" y="106.94" width="3.7" height="2.51" fill="#f23645"/>
<line x1="359.49" x2="359.49" y1="103.93" y2="117.23" stroke="#f23645" stroke-width="0.95" stroke-opacity="0.68"/>
<rect x="357.64" y="108.95" width="3.7" height="3.26" fill="#f23645"/>
<line x1="364.66" x2="364.66" y1="110.95" y2="114.22" stroke="#f23645" stroke-width="0.95" stroke-opacity="0.68"/>
<rect x="362.81" y="111.96" width="3.7" height="1.51" fill="#f23645"/>
<line x1="369.83" x2="369.83" y1="108.44" y2="114.22" stroke="#089981" stroke-width="0.95" stroke-opacity="0.68"/>
<rect x="367.98" y="109.45" width="3.7" height="4.02" fill="#089981"/>
<line x1="375.01" x2="375.01" y1="100.16" y2="113.97" stroke="#089981" stroke-width="0.95" stroke-opacity="0.68"/>
<rect x="373.16" y="107.69" width="3.7" height="2.01" fill="#089981"/>
<line x1="380.18" x2="380.18" y1="76.32" y2="108.95" stroke="#089981" stroke-width="0.95" stroke-opacity="0.68"/>
<rect x="378.33" y="83.09" width="3.7" height="25.10" fill="#089981"/>
<line x1="385.36" x2="385.36" y1="67.53" y2="88.87" stroke="#089981" stroke-width="0.95" stroke-opacity="0.68"/>
<rect x="383.51" y="73.05" width="3.7" height="10.29" fill="#089981"/>
<line x1="390.53" x2="390.53" y1="71.30" y2="83.85" stroke="#f23645" stroke-width="0.95" stroke-opacity="0.68"/>
<rect x="388.68" y="73.05" width="3.7" height="8.79" fill="#f23645"/>
<line x1="395.70" x2="395.70" y1="80.08" y2="88.87" stroke="#f23645" stroke-width="0.95" stroke-opacity="0.68"/>
<rect x="393.85" y="81.08" width="3.7" height="1.00" fill="#f23645"/>
<line x1="400.88" x2="400.88" y1="81.34" y2="85.10" stroke="#f23645" stroke-width="0.95" stroke-opacity="0.68"/>
<rect x="399.03" y="82.09" width="3.7" height="2.26" fill="#f23645"/>
<line x1="406.05" x2="406.05" y1="81.34" y2="94.64" stroke="#f23645" stroke-width="0.95" stroke-opacity="0.68"/>
<rect x="404.20" y="83.85" width="3.7" height="10.04" fill="#f23645"/>
<line x1="411.23" x2="411.23" y1="92.13" y2="103.17" stroke="#f23645" stroke-width="0.95" stroke-opacity="0.68"/>
<rect x="409.38" y="93.13" width="3.7" height="7.03" fill="#f23645"/>
<line x1="416.40" x2="416.40" y1="97.65" y2="128.27" stroke="#f23645" stroke-width="0.95" stroke-opacity="0.68"/>
<rect x="414.55" y="99.66" width="3.7" height="26.10" fill="#f23645"/>
<line x1="421.57" x2="421.57" y1="112.71" y2="131.54" stroke="#089981" stroke-width="0.95" stroke-opacity="0.68"/>
<rect x="419.72" y="118.99" width="3.7" height="6.78" fill="#089981"/>
<line x1="426.75" x2="426.75" y1="113.97" y2="124.76" stroke="#089981" stroke-width="0.95" stroke-opacity="0.68"/>
<rect x="424.90" y="117.73" width="3.7" height="1.26" fill="#089981"/>
<line x1="431.92" x2="431.92" y1="108.44" y2="124.01" stroke="#089981" stroke-width="0.95" stroke-opacity="0.68"/>
<rect x="430.07" y="117.73" width="3.7" height="1.00" fill="#089981"/>
<line x1="437.10" x2="437.10" y1="115.72" y2="121.50" stroke="#f23645" stroke-width="0.95" stroke-opacity="0.68"/>
<rect x="435.25" y="117.73" width="3.7" height="3.01" fill="#f23645"/>
<line x1="442.27" x2="442.27" y1="119.49" y2="139.07" stroke="#f23645" stroke-width="0.95" stroke-opacity="0.68"/>
<rect x="440.42" y="120.24" width="3.7" height="15.81" fill="#f23645"/>
<line x1="447.44" x2="447.44" y1="124.01" y2="137.31" stroke="#089981" stroke-width="0.95" stroke-opacity="0.68"/>
<rect x="445.59" y="125.76" width="3.7" height="10.29" fill="#089981"/>
<line x1="452.62" x2="452.62" y1="118.23" y2="131.54" stroke="#089981" stroke-width="0.95" stroke-opacity="0.68"/>
<rect x="450.77" y="120.24" width="3.7" height="6.02" fill="#089981"/>
<line x1="457.79" x2="457.79" y1="112.21" y2="122.75" stroke="#089981" stroke-width="0.95" stroke-opacity="0.68"/>
<rect x="455.94" y="119.24" width="3.7" height="1.26" fill="#089981"/>
<line x1="462.97" x2="462.97" y1="118.23" y2="155.88" stroke="#f23645" stroke-width="0.95" stroke-opacity="0.68"/>
<rect x="461.12" y="119.74" width="3.7" height="28.87" fill="#f23645"/>
<line x1="468.14" x2="468.14" y1="147.10" y2="169.19" stroke="#f23645" stroke-width="0.95" stroke-opacity="0.68"/>
<rect x="466.29" y="147.85" width="3.7" height="3.01" fill="#f23645"/>
<line x1="473.31" x2="473.31" y1="149.58" y2="201.29" stroke="#f23645" stroke-width="0.95" stroke-opacity="0.68"/>
<rect x="471.46" y="150.58" width="3.7" height="32.88" fill="#f23645"/>
<line x1="478.49" x2="478.49" y1="178.95" y2="201.54" stroke="#f23645" stroke-width="0.95" stroke-opacity="0.68"/>
<rect x="476.64" y="182.71" width="3.7" height="11.30" fill="#f23645"/>
<line x1="483.66" x2="483.66" y1="179.45" y2="207.81" stroke="#089981" stroke-width="0.95" stroke-opacity="0.68"/>
<rect x="481.81" y="183.46" width="3.7" height="10.54" fill="#089981"/>
<line x1="488.84" x2="488.84" y1="180.20" y2="217.60" stroke="#f23645" stroke-width="0.95" stroke-opacity="0.68"/>
<rect x="486.99" y="183.21" width="3.7" height="18.83" fill="#f23645"/>
<line x1="494.01" x2="494.01" y1="193.77" y2="225.14" stroke="#f23645" stroke-width="0.95" stroke-opacity="0.68"/>
<rect x="492.16" y="201.55" width="3.7" height="16.06" fill="#f23645"/>
<line x1="499.18" x2="499.18" y1="217.11" y2="282.37" stroke="#f23645" stroke-width="0.95" stroke-opacity="0.68"/>
<rect x="497.33" y="217.61" width="3.7" height="62.00" fill="#f23645"/>
<line x1="504.36" x2="504.36" y1="225.14" y2="294.92" stroke="#089981" stroke-width="0.95" stroke-opacity="0.68"/>
<rect x="502.51" y="232.67" width="3.7" height="46.94" fill="#089981"/>
<line x1="509.53" x2="509.53" y1="227.65" y2="251.50" stroke="#f23645" stroke-width="0.95" stroke-opacity="0.68"/>
<rect x="507.68" y="232.67" width="3.7" height="7.53" fill="#f23645"/>
<line x1="514.71" x2="514.71" y1="223.89" y2="240.95" stroke="#089981" stroke-width="0.95" stroke-opacity="0.68"/>
<rect x="512.86" y="233.42" width="3.7" height="6.78" fill="#089981"/>
<line x1="519.88" x2="519.88" y1="227.15" y2="245.72" stroke="#f23645" stroke-width="0.95" stroke-opacity="0.68"/>
<rect x="518.03" y="233.42" width="3.7" height="1.76" fill="#f23645"/>
<line x1="525.05" x2="525.05" y1="232.17" y2="248.23" stroke="#f23645" stroke-width="0.95" stroke-opacity="0.68"/>
<rect x="523.20" y="234.68" width="3.7" height="8.53" fill="#f23645"/>
<line x1="530.23" x2="530.23" y1="240.20" y2="260.78" stroke="#f23645" stroke-width="0.95" stroke-opacity="0.68"/>
<rect x="528.38" y="242.71" width="3.7" height="10.54" fill="#f23645"/>
<line x1="535.40" x2="535.40" y1="245.72" y2="265.30" stroke="#f23645" stroke-width="0.95" stroke-opacity="0.68"/>
<rect x="533.55" y="252.75" width="3.7" height="6.28" fill="#f23645"/>
<line x1="540.58" x2="540.58" y1="238.95" y2="261.03" stroke="#089981" stroke-width="0.95" stroke-opacity="0.68"/>
<rect x="538.73" y="242.71" width="3.7" height="16.32" fill="#089981"/>
<line x1="545.75" x2="545.75" y1="232.67" y2="243.97" stroke="#089981" stroke-width="0.95" stroke-opacity="0.68"/>
<rect x="543.90" y="236.94" width="3.7" height="6.28" fill="#089981"/>
<line x1="550.92" x2="550.92" y1="230.16" y2="247.23" stroke="#f23645" stroke-width="0.95" stroke-opacity="0.68"/>
<rect x="549.07" y="236.94" width="3.7" height="6.53" fill="#f23645"/>
<line x1="556.10" x2="556.10" y1="235.18" y2="251.50" stroke="#089981" stroke-width="0.95" stroke-opacity="0.68"/>
<rect x="554.25" y="241.46" width="3.7" height="1.26" fill="#089981"/>
<line x1="561.27" x2="561.27" y1="240.95" y2="253.25" stroke="#f23645" stroke-width="0.95" stroke-opacity="0.68"/>
<rect x="559.42" y="242.21" width="3.7" height="9.29" fill="#f23645"/>
<line x1="566.45" x2="566.45" y1="248.23" y2="261.03" stroke="#f23645" stroke-width="0.95" stroke-opacity="0.68"/>
<rect x="564.60" y="250.99" width="3.7" height="6.78" fill="#f23645"/>
<line x1="571.62" x2="571.62" y1="252.75" y2="261.54" stroke="#089981" stroke-width="0.95" stroke-opacity="0.68"/>
<rect x="569.77" y="254.01" width="3.7" height="3.77" fill="#089981"/>
<line x1="576.79" x2="576.79" y1="246.48" y2="255.76" stroke="#089981" stroke-width="0.95" stroke-opacity="0.68"/>
<rect x="574.94" y="247.73" width="3.7" height="6.53" fill="#089981"/>
<line x1="581.97" x2="581.97" y1="243.97" y2="250.24" stroke="#f23645" stroke-width="0.95" stroke-opacity="0.68"/>
<rect x="580.12" y="247.23" width="3.7" height="1.00" fill="#f23645"/>
<line x1="587.14" x2="587.14" y1="246.48" y2="250.99" stroke="#f23645" stroke-width="0.95" stroke-opacity="0.68"/>
<rect x="585.29" y="247.73" width="3.7" height="2.51" fill="#f23645"/>
<line x1="592.32" x2="592.32" y1="248.99" y2="271.58" stroke="#f23645" stroke-width="0.95" stroke-opacity="0.68"/>
<rect x="590.47" y="249.74" width="3.7" height="18.57" fill="#f23645"/>
<line x1="597.49" x2="597.49" y1="265.30" y2="279.61" stroke="#f23645" stroke-width="0.95" stroke-opacity="0.68"/>
<rect x="595.64" y="267.81" width="3.7" height="3.77" fill="#f23645"/>
<line x1="602.66" x2="602.66" y1="235.18" y2="272.08" stroke="#089981" stroke-width="0.95" stroke-opacity="0.68"/>
<rect x="600.81" y="247.73" width="3.7" height="23.85" fill="#089981"/>
<line x1="607.84" x2="607.84" y1="245.72" y2="255.26" stroke="#f23645" stroke-width="0.95" stroke-opacity="0.68"/>
<rect x="605.99" y="247.73" width="3.7" height="3.26" fill="#f23645"/>
<line x1="613.01" x2="613.01" y1="246.48" y2="265.30" stroke="#f23645" stroke-width="0.95" stroke-opacity="0.68"/>
<rect x="611.16" y="250.74" width="3.7" height="10.04" fill="#f23645"/>
<line x1="618.19" x2="618.19" y1="248.99" y2="277.35" stroke="#089981" stroke-width="0.95" stroke-opacity="0.68"/>
<rect x="616.34" y="254.01" width="3.7" height="6.78" fill="#089981"/>
<line x1="623.36" x2="623.36" y1="245.22" y2="265.30" stroke="#f23645" stroke-width="0.95" stroke-opacity="0.68"/>
<rect x="621.51" y="254.01" width="3.7" height="7.03" fill="#f23645"/>
<line x1="628.53" x2="628.53" y1="235.18" y2="264.05" stroke="#089981" stroke-width="0.95" stroke-opacity="0.68"/>
<rect x="626.68" y="243.21" width="3.7" height="17.82" fill="#089981"/>
<line x1="633.71" x2="633.71" y1="239.45" y2="259.03" stroke="#f23645" stroke-width="0.95" stroke-opacity="0.68"/>
<rect x="631.86" y="242.71" width="3.7" height="3.26" fill="#f23645"/>
<line x1="638.88" x2="638.88" y1="211.34" y2="246.48" stroke="#089981" stroke-width="0.95" stroke-opacity="0.68"/>
<rect x="637.03" y="219.37" width="3.7" height="26.36" fill="#089981"/>
<line x1="644.06" x2="644.06" y1="214.43" y2="230.99" stroke="#f23645" stroke-width="0.95" stroke-opacity="0.68"/>
<rect x="642.21" y="219.45" width="3.7" height="10.79" fill="#f23645"/>
<line x1="649.23" x2="649.23" y1="227.73" y2="247.81" stroke="#f23645" stroke-width="0.95" stroke-opacity="0.68"/>
<rect x="647.38" y="229.74" width="3.7" height="16.82" fill="#f23645"/>
<line x1="654.40" x2="654.40" y1="245.30" y2="253.58" stroke="#f23645" stroke-width="0.95" stroke-opacity="0.68"/>
<rect x="652.55" y="246.56" width="3.7" height="5.77" fill="#f23645"/>
<line x1="659.58" x2="659.58" y1="246.05" y2="261.62" stroke="#f23645" stroke-width="0.95" stroke-opacity="0.68"/>
<rect x="657.73" y="251.58" width="3.7" height="8.03" fill="#f23645"/>
<line x1="664.75" x2="664.75" y1="237.77" y2="260.36" stroke="#089981" stroke-width="0.95" stroke-opacity="0.68"/>
<rect x="662.90" y="244.55" width="3.7" height="15.06" fill="#089981"/>
<line x1="669.93" x2="669.93" y1="225.22" y2="245.80" stroke="#089981" stroke-width="0.95" stroke-opacity="0.68"/>
<rect x="668.08" y="235.76" width="3.7" height="9.04" fill="#089981"/>
<line x1="675.10" x2="675.10" y1="227.73" y2="240.28" stroke="#089981" stroke-width="0.95" stroke-opacity="0.68"/>
<rect x="673.25" y="234.01" width="3.7" height="2.51" fill="#089981"/>
<line x1="680.27" x2="680.27" y1="230.24" y2="239.03" stroke="#089981" stroke-width="0.95" stroke-opacity="0.68"/>
<rect x="678.42" y="232.00" width="3.7" height="2.51" fill="#089981"/>
<line x1="685.45" x2="685.45" y1="212.17" y2="233.50" stroke="#089981" stroke-width="0.95" stroke-opacity="0.68"/>
<rect x="683.60" y="229.49" width="3.7" height="3.26" fill="#089981"/>
<line x1="690.62" x2="690.62" y1="226.48" y2="234.01" stroke="#089981" stroke-width="0.95" stroke-opacity="0.68"/>
<rect x="688.77" y="227.73" width="3.7" height="2.51" fill="#089981"/>
<line x1="695.80" x2="695.80" y1="216.44" y2="229.74" stroke="#089981" stroke-width="0.95" stroke-opacity="0.68"/>
<rect x="693.95" y="218.95" width="3.7" height="10.04" fill="#089981"/>
<line x1="700.97" x2="700.97" y1="205.14" y2="220.20" stroke="#089981" stroke-width="0.95" stroke-opacity="0.68"/>
<rect x="699.12" y="205.89" width="3.7" height="13.05" fill="#089981"/>
<line x1="706.14" x2="706.14" y1="199.62" y2="213.93" stroke="#f23645" stroke-width="0.95" stroke-opacity="0.68"/>
<rect x="704.29" y="205.89" width="3.7" height="6.02" fill="#f23645"/>
<line x1="711.32" x2="711.32" y1="207.65" y2="231.50" stroke="#f23645" stroke-width="0.95" stroke-opacity="0.68"/>
<rect x="709.47" y="211.42" width="3.7" height="17.07" fill="#f23645"/>
<line x1="716.49" x2="716.49" y1="226.48" y2="242.79" stroke="#f23645" stroke-width="0.95" stroke-opacity="0.68"/>
<rect x="714.64" y="227.73" width="3.7" height="8.03" fill="#f23645"/>
<line x1="721.67" x2="721.67" y1="226.48" y2="239.03" stroke="#089981" stroke-width="0.95" stroke-opacity="0.68"/>
<rect x="719.82" y="232.75" width="3.7" height="3.77" fill="#089981"/>
<line x1="726.84" x2="726.84" y1="228.99" y2="243.29" stroke="#f23645" stroke-width="0.95" stroke-opacity="0.68"/>
<rect x="724.99" y="232.75" width="3.7" height="9.54" fill="#f23645"/>
<line x1="732.01" x2="732.01" y1="241.03" y2="251.58" stroke="#f23645" stroke-width="0.95" stroke-opacity="0.68"/>
<rect x="730.16" y="242.04" width="3.7" height="6.53" fill="#f23645"/>
<line x1="737.19" x2="737.19" y1="225.72" y2="249.07" stroke="#089981" stroke-width="0.95" stroke-opacity="0.68"/>
<rect x="735.34" y="230.24" width="3.7" height="18.32" fill="#089981"/>
<line x1="742.36" x2="742.36" y1="227.73" y2="240.78" stroke="#f23645" stroke-width="0.95" stroke-opacity="0.68"/>
<rect x="740.51" y="230.24" width="3.7" height="2.51" fill="#f23645"/>
<line x1="747.54" x2="747.54" y1="223.46" y2="233.50" stroke="#089981" stroke-width="0.95" stroke-opacity="0.68"/>
<rect x="745.69" y="228.23" width="3.7" height="4.52" fill="#089981"/>
<line x1="752.71" x2="752.71" y1="227.23" y2="246.56" stroke="#f23645" stroke-width="0.95" stroke-opacity="0.68"/>
<rect x="750.86" y="228.23" width="3.7" height="15.06" fill="#f23645"/>
<line x1="757.88" x2="757.88" y1="241.29" y2="244.80" stroke="#f23645" stroke-width="0.95" stroke-opacity="0.68"/>
<rect x="756.03" y="242.92" width="3.7" height="0.90" fill="#f23645"/>
<line x1="395" x2="979.3" y1="277.3" y2="277.3" stroke="#43a047" stroke-width="1.2"/>
<path d="M500.2 219.6 L675.3 258.8 L675.3 261.3 L504 295.7" fill="none" stroke="#17998a" stroke-width="1.8" stroke-linejoin="round"/>
<line x1="713.2" x2="789.2" y1="224.7" y2="224.7" stroke="#17998a" stroke-width="1.8"/>
<rect x="705.6" y="247.4" width="83.3" height="3.3" fill="#a7d8a0" fill-opacity="0.7" stroke="#17998a" stroke-width="0.9"/>
<clipPath id="os"><rect x="0" y="428.3" width="979" height="20"/></clipPath>
<linearGradient id="osg" x1="0" y1="428.3" x2="0" y2="441" gradientUnits="userSpaceOnUse"><stop offset="0" stop-color="#f7a35c" stop-opacity="0.35"/><stop offset="1" stop-color="#f4703a" stop-opacity="0.85"/></linearGradient>
<path d="M0.00 413.75 L6.25 412.00 L13.75 423.00 L17.50 426.25 L22.50 420.75 L26.25 422.50 L32.50 419.50 L37.50 420.50 L42.50 416.25 L48.00 413.75 L53.75 417.50 L58.75 420.00 L65.00 423.00 L71.25 427.00 L75.00 425.50 L80.00 427.50 L86.25 426.50 L91.25 428.00 L96.25 426.50 L101.25 428.00 L106.25 426.50 L111.25 427.50 L117.50 427.50 L121.25 425.50 L126.25 426.75 L131.25 420.00 L135.00 418.00 L140.00 417.50 L147.50 418.00 L151.25 419.25 L157.00 425.00 L162.50 414.50 L167.50 410.50 L172.50 413.75 L178.00 417.50 L182.50 417.00 L187.50 414.50 L192.50 414.25 L198.00 410.00 L203.00 411.25 L208.25 410.00 L213.75 413.75 L218.75 414.50 L223.75 418.00 L229.50 421.25 L234.50 417.50 L240.00 420.00 L245.00 421.25 L250.00 415.75 L255.00 414.50 L261.25 413.25 L266.25 413.75 L271.25 416.25 L276.25 415.75 L281.25 417.00 L286.25 416.75 L291.75 414.25 L297.00 414.25 L302.00 416.25 L307.25 412.00 L312.50 414.25 L317.50 410.00 L322.75 405.75 L328.00 404.25 L333.00 401.75 L338.25 395.75 L343.25 396.25 L348.50 405.00 L353.75 406.00 L358.75 407.50 L364.00 408.75 L369.00 407.00 L374.25 405.75 L379.50 395.00 L384.50 391.75 L389.75 397.00 L395.00 397.50 L400.00 399.50 L405.25 403.75 L410.25 407.00 L415.50 419.25 L420.75 416.25 L425.75 415.75 L431.00 415.50 L436.00 416.75 L441.25 422.50 L446.25 417.50 L451.50 414.25 L456.75 414.25 L461.75 423.75 L467.00 424.50 L472.00 431.25 L477.25 433.75 L483.75 428.75 L488.75 431.25 L493.75 435.00 L498.75 440.50 L503.75 425.75 L509.25 427.00 L514.25 425.00 L519.50 425.00 L524.50 426.25 L529.75 428.00 L535.00 428.75 L540.00 423.00 L545.00 421.25 L550.00 422.50 L555.50 422.50 L560.75 424.25 L565.75 425.75 L571.00 424.25 L576.25 421.25 L581.25 421.25 L586.50 421.75 L591.75 426.25 L596.75 427.50 L602.00 416.75 L607.00 418.00 L612.25 420.50 L617.50 417.50 L622.50 419.25 L627.75 412.00 L632.75 413.00 L638.25 404.50 L643.25 408.00 L648.50 413.00 L653.75 415.00 L658.75 417.00 L664.00 412.50 L669.25 409.50 L674.25 408.25 L679.50 407.50 L684.50 406.75 L690.00 405.75 L695.00 402.50 L700.25 398.75 L705.50 402.00 L710.50 408.00 L715.75 411.25 L721.00 410.00 L726.25 413.75 L731.25 415.75 L736.50 408.25 L741.50 409.50 L746.75 407.50 L751.75 413.25 L757.00 413.25 L760 428.3 L0 428.3 Z" fill="url(#osg)" clip-path="url(#os)"/>
<path d="M0.00 413.75 C1.25 413.54 3.33 412.38 7.50 412.50 C11.67 412.62 17.92 413.67 25.00 414.50 C32.08 415.33 41.67 416.25 50.00 417.50 C58.33 418.75 66.67 420.75 75.00 422.00 C83.33 423.25 92.92 424.21 100.00 425.00 C107.08 425.79 112.50 426.25 117.50 426.75 C122.50 427.25 125.42 427.88 130.00 428.00 C134.58 428.12 140.00 427.92 145.00 427.50 C150.00 427.08 155.00 426.54 160.00 425.50 C165.00 424.46 170.00 422.58 175.00 421.25 C180.00 419.92 185.00 418.54 190.00 417.50 C195.00 416.46 200.00 415.54 205.00 415.00 C210.00 414.46 215.00 414.33 220.00 414.25 C225.00 414.17 230.00 414.29 235.00 414.50 C240.00 414.71 245.42 415.33 250.00 415.50 C254.58 415.67 258.33 415.29 262.50 415.50 C266.67 415.71 270.83 416.50 275.00 416.75 C279.17 417.00 283.33 417.00 287.50 417.00 C291.67 417.00 295.83 417.00 300.00 416.75 C304.17 416.50 308.33 416.08 312.50 415.50 C316.67 414.92 320.83 414.08 325.00 413.25 C329.17 412.42 333.33 411.33 337.50 410.50 C341.67 409.67 345.83 408.83 350.00 408.25 C354.17 407.67 358.33 407.54 362.50 407.00 C366.67 406.46 370.83 405.83 375.00 405.00 C379.17 404.17 383.33 402.71 387.50 402.00 C391.67 401.29 396.25 400.67 400.00 400.75 C403.75 400.83 406.67 401.92 410.00 402.50 C413.33 403.08 416.25 403.71 420.00 404.25 C423.75 404.79 428.33 405.08 432.50 405.75 C436.67 406.42 440.83 407.25 445.00 408.25 C449.17 409.25 453.33 410.33 457.50 411.75 C461.67 413.17 465.83 415.17 470.00 416.75 C474.17 418.33 478.33 419.96 482.50 421.25 C486.67 422.54 492.08 423.79 495.00 424.50 C497.92 425.21 497.08 425.12 500.00 425.50 C502.92 425.88 508.33 426.33 512.50 426.75 C516.67 427.17 520.83 427.58 525.00 428.00 C529.17 428.42 533.33 429.33 537.50 429.25 C541.67 429.17 545.83 428.00 550.00 427.50 C554.17 427.00 558.33 426.67 562.50 426.25 C566.67 425.83 570.83 425.33 575.00 425.00 C579.17 424.67 583.33 424.58 587.50 424.25 C591.67 423.92 595.83 423.38 600.00 423.00 C604.17 422.62 608.33 422.29 612.50 422.00 C616.67 421.71 620.83 421.79 625.00 421.25 C629.17 420.71 633.33 419.46 637.50 418.75 C641.67 418.04 645.83 417.54 650.00 417.00 C654.17 416.46 658.33 416.17 662.50 415.50 C666.67 414.83 670.83 413.71 675.00 413.00 C679.17 412.29 683.33 411.96 687.50 411.25 C691.67 410.54 695.83 409.25 700.00 408.75 C704.17 408.25 708.33 408.38 712.50 408.25 C716.67 408.12 720.83 408.08 725.00 408.00 C729.17 407.92 733.33 407.75 737.50 407.75 C741.67 407.75 746.75 407.92 750.00 408.00 C753.25 408.08 755.83 408.21 757.00 408.25" fill="none" stroke="#5fae4f" stroke-width="0.9"/>
<path d="M0.00 413.75 L6.25 412.00 L13.75 423.00 L17.50 426.25 L22.50 420.75 L26.25 422.50 L32.50 419.50 L37.50 420.50 L42.50 416.25 L48.00 413.75 L53.75 417.50 L58.75 420.00 L65.00 423.00 L71.25 427.00 L75.00 425.50 L80.00 427.50 L86.25 426.50 L91.25 428.00 L96.25 426.50 L101.25 428.00 L106.25 426.50 L111.25 427.50 L117.50 427.50 L121.25 425.50 L126.25 426.75 L131.25 420.00 L135.00 418.00 L140.00 417.50 L147.50 418.00 L151.25 419.25 L157.00 425.00 L162.50 414.50 L167.50 410.50 L172.50 413.75 L178.00 417.50 L182.50 417.00 L187.50 414.50 L192.50 414.25 L198.00 410.00 L203.00 411.25 L208.25 410.00 L213.75 413.75 L218.75 414.50 L223.75 418.00 L229.50 421.25 L234.50 417.50 L240.00 420.00 L245.00 421.25 L250.00 415.75 L255.00 414.50 L261.25 413.25 L266.25 413.75 L271.25 416.25 L276.25 415.75 L281.25 417.00 L286.25 416.75 L291.75 414.25 L297.00 414.25 L302.00 416.25 L307.25 412.00 L312.50 414.25 L317.50 410.00 L322.75 405.75 L328.00 404.25 L333.00 401.75 L338.25 395.75 L343.25 396.25 L348.50 405.00 L353.75 406.00 L358.75 407.50 L364.00 408.75 L369.00 407.00 L374.25 405.75 L379.50 395.00 L384.50 391.75 L389.75 397.00 L395.00 397.50 L400.00 399.50 L405.25 403.75 L410.25 407.00 L415.50 419.25 L420.75 416.25 L425.75 415.75 L431.00 415.50 L436.00 416.75 L441.25 422.50 L446.25 417.50 L451.50 414.25 L456.75 414.25 L461.75 423.75 L467.00 424.50 L472.00 431.25 L477.25 433.75 L483.75 428.75 L488.75 431.25 L493.75 435.00 L498.75 440.50 L503.75 425.75 L509.25 427.00 L514.25 425.00 L519.50 425.00 L524.50 426.25 L529.75 428.00 L535.00 428.75 L540.00 423.00 L545.00 421.25 L550.00 422.50 L555.50 422.50 L560.75 424.25 L565.75 425.75 L571.00 424.25 L576.25 421.25 L581.25 421.25 L586.50 421.75 L591.75 426.25 L596.75 427.50 L602.00 416.75 L607.00 418.00 L612.25 420.50 L617.50 417.50 L622.50 419.25 L627.75 412.00 L632.75 413.00 L638.25 404.50 L643.25 408.00 L648.50 413.00 L653.75 415.00 L658.75 417.00 L664.00 412.50 L669.25 409.50 L674.25 408.25 L679.50 407.50 L684.50 406.75 L690.00 405.75 L695.00 402.50 L700.25 398.75 L705.50 402.00 L710.50 408.00 L715.75 411.25 L721.00 410.00 L726.25 413.75 L731.25 415.75 L736.50 408.25 L741.50 409.50 L746.75 407.50 L751.75 413.25 L757.00 413.25" fill="none" stroke="#8c6bd0" stroke-width="0.9" stroke-linejoin="round"/>
<rect x="0" y="2.5" width="440" height="17" fill="#fef49b" fill-opacity="0.45"/>
<rect x="0" y="19.5" width="108" height="30" fill="#fef49b" fill-opacity="0.45"/>
<rect x="979.3" y="0" width="44.7" height="462" fill="#fef49b"/>
<rect x="0" y="446" width="1024" height="16" fill="#fef49b"/>
<rect x="0" y="385.0" width="1024" height="0.8" fill="#f7f3d6"/>
<text x="985.60" y="370.35" font-size="9.00" fill="#131722" font-weight="normal" text-anchor="start" textLength="25.80" lengthAdjust="spacingAndGlyphs" stroke-width="0.08" stroke="#131722">48,000</text>
<text x="985.60" y="346.23" font-size="9.00" fill="#131722" font-weight="normal" text-anchor="start" textLength="25.80" lengthAdjust="spacingAndGlyphs" stroke-width="0.08" stroke="#131722">52,000</text>
<text x="985.60" y="322.11" font-size="9.00" fill="#131722" font-weight="normal" text-anchor="start" textLength="25.80" lengthAdjust="spacingAndGlyphs" stroke-width="0.08" stroke="#131722">56,000</text>
<text x="985.60" y="297.99" font-size="9.00" fill="#131722" font-weight="normal" text-anchor="start" textLength="25.80" lengthAdjust="spacingAndGlyphs" stroke-width="0.08" stroke="#131722">60,000</text>
<clipPath id="c64"><rect x="980" y="260" width="44" height="11.8"/></clipPath>
<text x="985.60" y="273.87" font-size="9.00" fill="#131722" font-weight="normal" text-anchor="start" textLength="25.80" lengthAdjust="spacingAndGlyphs" clip-path="url(#c64)" stroke-width="0.08" stroke="#131722">64,000</text>
<text x="985.60" y="201.51" font-size="9.00" fill="#131722" font-weight="normal" text-anchor="start" textLength="25.80" lengthAdjust="spacingAndGlyphs" stroke-width="0.08" stroke="#131722">76,000</text>
<text x="985.60" y="177.39" font-size="9.00" fill="#131722" font-weight="normal" text-anchor="start" textLength="25.80" lengthAdjust="spacingAndGlyphs" stroke-width="0.08" stroke="#131722">80,000</text>
<text x="985.60" y="153.27" font-size="9.00" fill="#131722" font-weight="normal" text-anchor="start" textLength="25.80" lengthAdjust="spacingAndGlyphs" stroke-width="0.08" stroke="#131722">84,000</text>
<text x="985.60" y="129.15" font-size="9.00" fill="#131722" font-weight="normal" text-anchor="start" textLength="25.80" lengthAdjust="spacingAndGlyphs" stroke-width="0.08" stroke="#131722">88,000</text>
<text x="985.60" y="105.03" font-size="9.00" fill="#131722" font-weight="normal" text-anchor="start" textLength="25.80" lengthAdjust="spacingAndGlyphs" stroke-width="0.08" stroke="#131722">92,000</text>
<text x="985.60" y="80.91" font-size="9.00" fill="#131722" font-weight="normal" text-anchor="start" textLength="25.80" lengthAdjust="spacingAndGlyphs" stroke-width="0.08" stroke="#131722">96,000</text>
<text x="985.60" y="56.79" font-size="9.00" fill="#131722" font-weight="normal" text-anchor="start" textLength="30.40" lengthAdjust="spacingAndGlyphs" stroke-width="0.08" stroke="#131722">100,000</text>
<text x="985.60" y="32.67" font-size="9.00" fill="#131722" font-weight="normal" text-anchor="start" textLength="30.40" lengthAdjust="spacingAndGlyphs" stroke-width="0.08" stroke="#131722">104,000</text>
<text x="985.60" y="8.55" font-size="9.00" fill="#131722" font-weight="normal" text-anchor="start" textLength="30.40" lengthAdjust="spacingAndGlyphs" stroke-width="0.08" stroke="#131722">108,000</text>
<clipPath id="c75"><rect x="980" y="386" width="44" height="12"/></clipPath>
<text x="985.60" y="389.80" font-size="9.00" fill="#131722" font-weight="normal" text-anchor="start" textLength="21.60" lengthAdjust="spacingAndGlyphs" clip-path="url(#c75)" stroke-width="0.08" stroke="#131722">75.00</text>
<text x="985.60" y="436.30" font-size="9.00" fill="#131722" font-weight="normal" text-anchor="start" textLength="21.60" lengthAdjust="spacingAndGlyphs" stroke-width="0.08" stroke="#131722">25.00</text>
<rect x="979.60" y="134.80" width="35.60" height="11.30" fill="#0a0af5" rx="0.8"/>
<text x="985.60" y="142.50" font-size="9.00" fill="#fff" font-weight="normal" text-anchor="start" textLength="26.30" lengthAdjust="spacingAndGlyphs"  stroke="#fff" stroke-width="0.1">85,880</text>
<rect x="979.60" y="213.50" width="35.60" height="11.10" fill="#ff8000" rx="0.8"/>
<text x="985.60" y="221.80" font-size="9.00" fill="#fff" font-weight="normal" text-anchor="start" textLength="26.30" lengthAdjust="spacingAndGlyphs"  stroke="#fff" stroke-width="0.1">71,890</text>
<rect x="979.60" y="224.90" width="35.60" height="12.30" fill="#ff0000" rx="0.8"/>
<text x="985.60" y="233.80" font-size="9.00" fill="#fff" font-weight="normal" text-anchor="start" textLength="26.30" lengthAdjust="spacingAndGlyphs"  stroke="#fff" stroke-width="0.1">70,045</text>
<rect x="979.6" y="237.7" width="43.4" height="22" fill="#f23645" rx="1"/>
<text x="985.60" y="245.80" font-size="9.00" fill="#fff" font-weight="normal" text-anchor="start" textLength="26.30" lengthAdjust="spacingAndGlyphs"  stroke="#fff" stroke-width="0.1">68,656</text>
<text x="985.60" y="256.60" font-size="9.00" fill="#ffd7da" font-weight="normal" text-anchor="start" textLength="33.60" lengthAdjust="spacingAndGlyphs"  stroke="#ffd7da" stroke-width="0.1">17:08:04</text>
<rect x="943.4" y="238.2" width="35.0" height="11.3" fill="#f23645" rx="1"/>
<text x="946.30" y="246.20" font-size="9.00" fill="#fff" font-weight="normal" text-anchor="start" textLength="29.50" lengthAdjust="spacingAndGlyphs"  stroke="#fff" stroke-width="0.1">BTCUSD</text>
<rect x="979.60" y="272.00" width="35.60" height="10.90" fill="#43a047" rx="0.8"/>
<text x="985.60" y="279.50" font-size="9.00" fill="#fff" font-weight="normal" text-anchor="start" textLength="26.30" lengthAdjust="spacingAndGlyphs"  stroke="#fff" stroke-width="0.1">63,007</text>
<rect x="979.60" y="373.60" width="23.20" height="11.60" fill="#ef5350" rx="0.8"/>
<text x="986.30" y="382.45" font-size="9.00" fill="#fff" font-weight="normal" text-anchor="start" textLength="12.40" lengthAdjust="spacingAndGlyphs"  stroke="#fff" stroke-width="0.1">415</text>
<rect x="979.60" y="396.20" width="31.50" height="11.30" fill="#43a047" rx="0.8"/>
<text x="985.30" y="404.90" font-size="9.00" fill="#fff" font-weight="normal" text-anchor="start" textLength="21.60" lengthAdjust="spacingAndGlyphs"  stroke="#fff" stroke-width="0.1">51.26</text>
<rect x="979.60" y="408.00" width="31.50" height="11.30" fill="#7e57c2" rx="0.8"/>
<text x="985.30" y="416.70" font-size="9.00" fill="#fff" font-weight="normal" text-anchor="start" textLength="21.60" lengthAdjust="spacingAndGlyphs"  stroke="#fff" stroke-width="0.1">45.76</text>
<text x="0.85" y="459.20" font-size="8.40" fill="#131722" font-weight="normal" text-anchor="middle"  stroke="#131722" stroke-width="0.1">Nov</text>
<text x="157.70" y="459.20" font-size="8.40" fill="#131722" font-weight="normal" text-anchor="middle"  stroke="#131722" stroke-width="0.1">Dec</text>
<text x="318.09" y="459.20" font-size="8.40" fill="#131722" font-weight="bold" text-anchor="middle"  stroke="#131722" stroke-width="0.1">2026</text>
<text x="478.49" y="459.20" font-size="8.40" fill="#131722" font-weight="normal" text-anchor="middle"  stroke="#131722" stroke-width="0.1">Feb</text>
<text x="623.36" y="459.20" font-size="8.40" fill="#131722" font-weight="normal" text-anchor="middle"  stroke="#131722" stroke-width="0.1">Mar</text>
<text x="783.75" y="459.20" font-size="8.40" fill="#131722" font-weight="normal" text-anchor="middle"  stroke="#131722" stroke-width="0.1">Apr</text>
<text x="938.97" y="459.20" font-size="8.40" fill="#131722" font-weight="normal" text-anchor="middle"  stroke="#131722" stroke-width="0.1">May</text>
<g transform="translate(1003.6 456.6)" fill="none" stroke="#131722" stroke-width="0.75"><path d="M-2.4 -4.1 L2.4 -4.1 L4.8 0 L2.4 4.1 L-2.4 4.1 L-4.8 0 Z" stroke-linejoin="round"/><circle r="1.35"/></g>
<circle cx="8.5" cy="10.6" r="6.2" fill="#f7931a"/>
<text x="8.60" y="13.70" font-size="8.60" fill="#fff" font-weight="bold" text-anchor="middle" transform="rotate(12 8.5 10.6)" stroke="#fff" stroke-width="0.1">B</text>
<text x="18.10" y="14.90" font-size="10.30" fill="#131722" font-weight="normal" text-anchor="start" textLength="180.20" lengthAdjust="spacingAndGlyphs" stroke="#131722" stroke-width="0.3">Bitcoin / U.S. Dollar · 1D · Bitstamp</text>
<circle cx="210.5" cy="10.3" r="5.5" fill="#7cc47f" fill-opacity="0.4"/><circle cx="210.5" cy="10.3" r="2.4" fill="#0a6b58"/>
<text x="222.60" y="13.70" font-size="9.20" fill="#131722" font-weight="normal" text-anchor="start" textLength="6.60" lengthAdjust="spacingAndGlyphs"  stroke="#131722" stroke-width="0.1">O</text>
<text x="229.60" y="13.70" font-size="9.20" fill="#f23645" font-weight="normal" text-anchor="start" textLength="27.60" lengthAdjust="spacingAndGlyphs"  stroke="#f23645" stroke-width="0.1">68,779</text>
<text x="262.70" y="13.70" font-size="9.20" fill="#131722" font-weight="normal" text-anchor="start" textLength="6.00" lengthAdjust="spacingAndGlyphs"  stroke="#131722" stroke-width="0.1">H</text>
<text x="269.00" y="13.70" font-size="9.20" fill="#f23645" font-weight="normal" text-anchor="start" textLength="27.60" lengthAdjust="spacingAndGlyphs"  stroke="#f23645" stroke-width="0.1">69,127</text>
<text x="302.20" y="13.70" font-size="9.20" fill="#131722" font-weight="normal" text-anchor="start" textLength="4.40" lengthAdjust="spacingAndGlyphs"  stroke="#131722" stroke-width="0.1">L</text>
<text x="306.40" y="13.70" font-size="9.20" fill="#f23645" font-weight="normal" text-anchor="start" textLength="27.90" lengthAdjust="spacingAndGlyphs"  stroke="#f23645" stroke-width="0.1">68,265</text>
<text x="339.80" y="13.70" font-size="9.20" fill="#131722" font-weight="normal" text-anchor="start" textLength="5.60" lengthAdjust="spacingAndGlyphs"  stroke="#131722" stroke-width="0.1">C</text>
<text x="345.60" y="13.70" font-size="9.20" fill="#f23645" font-weight="normal" text-anchor="start" textLength="27.60" lengthAdjust="spacingAndGlyphs"  stroke="#f23645" stroke-width="0.1">68,656</text>
<text x="378.20" y="13.70" font-size="9.20" fill="#f23645" font-weight="normal" text-anchor="start" textLength="18.80" lengthAdjust="spacingAndGlyphs"  stroke="#f23645" stroke-width="0.1">−123</text>
<text x="400.80" y="13.70" font-size="9.20" fill="#f23645" font-weight="normal" text-anchor="start" textLength="34.60" lengthAdjust="spacingAndGlyphs"  stroke="#f23645" stroke-width="0.1">(−0.18%)</text>
<rect x="2.2" y="22.3" width="43" height="23.9" rx="3.2" fill="#fff" stroke="#f5636d" stroke-width="0.9"/>
<text x="23.90" y="31.70" font-size="8.40" fill="#f23645" font-weight="bold" text-anchor="middle" textLength="28.60" lengthAdjust="spacingAndGlyphs"  stroke="#f23645" stroke-width="0.1">68,655</text>
<text x="23.60" y="41.60" font-size="8.10" fill="#f23645" font-weight="normal" text-anchor="middle" textLength="16.70" lengthAdjust="spacingAndGlyphs" stroke-width="0.05" stroke="#f23645">SELL</text>
<rect x="61.4" y="22.3" width="43.5" height="23.9" rx="3.2" fill="#fff" stroke="#4a7dff" stroke-width="0.9"/>
<text x="83.20" y="31.70" font-size="8.40" fill="#2962ff" font-weight="bold" text-anchor="middle" textLength="28.60" lengthAdjust="spacingAndGlyphs"  stroke="#2962ff" stroke-width="0.1">68,656</text>
<text x="83.00" y="41.60" font-size="8.10" fill="#2962ff" font-weight="normal" text-anchor="middle" textLength="14.20" lengthAdjust="spacingAndGlyphs" stroke-width="0.05" stroke="#2962ff">BUY</text>
<text x="53.60" y="36.00" font-size="7.20" fill="#4a3b2a" font-weight="bold" text-anchor="middle"  stroke="#4a3b2a" stroke-width="0.1">1</text>
<rect x="2.2" y="51.5" width="22" height="14.6" rx="2.2" fill="#fef49b" fill-opacity="0.6" stroke="#dcd6a6" stroke-width="0.8"/>
<path d="M6.3 57.6 L9.1 60.2 L11.9 57.6" fill="none" stroke="#131722" stroke-width="0.95"/>
<text x="16.00" y="62.10" font-size="9.50" fill="#131722" font-weight="normal" text-anchor="start" stroke="#131722" stroke-width="0.25">2</text>
<g transform="translate(3.6 422.6) scale(0.6)" fill="#131722" stroke="#fff" stroke-width="2.6" stroke-linejoin="round" paint-order="stroke"><path d="M14 22H7V11H0V4h14v18z"/><circle cx="20" cy="8" r="4"/><path d="M28 22h-8l7.5-18h8L28 22z"/></g>
<text x="31.20" y="436.00" font-size="13.80" fill="#131722" font-weight="bold" text-anchor="start" textLength="86.50" lengthAdjust="spacingAndGlyphs" stroke="#fff" stroke-width="2" stroke-linejoin="round" paint-order="stroke">TradingView</text>
<g transform="translate(758.2 375.6)"><circle r="7.9" fill="#fff" fill-opacity="0.9"/><circle r="6.9" fill="#fff" stroke="#9c27b0" stroke-width="1.1"/><path d="M2.1 -4.3 L-2.9 0.9 L-0.3 0.9 L-2.5 4.9 L2.9 -0.8 L0.3 -0.8 Z" fill="#9c27b0"/><path d="M-8.3 -0.8 Q-7.8 2.3 -4.7 2.8 Q-7.8 3.3 -8.3 6.4 Q-8.8 3.3 -11.9 2.8 Q-8.8 2.3 -8.3 -0.8 Z" fill="#7c4dff" stroke="#fff" stroke-width="1.1" paint-order="stroke"/><circle cx="4.7" cy="-5.2" r="1.7" fill="#f23645" stroke="#fff" stroke-width="1" paint-order="stroke"/></g>
<g transform="translate(784.7 375.9)"><clipPath id="fl1"><circle r="6.5"/></clipPath><circle r="7.3" fill="#fff" stroke="#f23645" stroke-width="1.15"/><g clip-path="url(#fl1)">
<rect x="-7" y="-6.30" width="14" height="0.90" fill="#f0404c"/>
<rect x="-7" y="-4.40" width="14" height="1.40" fill="#f0404c"/>
<rect x="-7" y="-1.20" width="14" height="2.00" fill="#f0404c"/>
<rect x="-7" y="3.40" width="14" height="2.00" fill="#f0404c"/>
<rect x="-7" y="-7" width="8.4" height="8.2" fill="#4a8df0"/>
<rect x="-4.90" y="-4.60" width="0.9" height="0.8" fill="#dce9ff"/>
<rect x="-2.90" y="-4.60" width="0.9" height="0.8" fill="#dce9ff"/>
<rect x="-0.90" y="-4.60" width="0.9" height="0.8" fill="#dce9ff"/>
<rect x="-4.90" y="-2.70" width="0.9" height="0.8" fill="#dce9ff"/>
<rect x="-2.90" y="-2.70" width="0.9" height="0.8" fill="#dce9ff"/>
<rect x="-0.90" y="-2.70" width="0.9" height="0.8" fill="#dce9ff"/>
<rect x="-4.90" y="-0.80" width="0.9" height="0.8" fill="#dce9ff"/>
<rect x="-2.90" y="-0.80" width="0.9" height="0.8" fill="#dce9ff"/>
<rect x="-0.90" y="-0.80" width="0.9" height="0.8" fill="#dce9ff"/>
</g></g>
<g transform="translate(778.1 375.9)"><clipPath id="fl2"><circle r="6.5"/></clipPath><circle r="7.3" fill="#fff" stroke="#f23645" stroke-width="1.15"/><g clip-path="url(#fl2)">
<rect x="-7" y="-6.30" width="14" height="0.90" fill="#f0404c"/>
<rect x="-7" y="-4.40" width="14" height="1.40" fill="#f0404c"/>
<rect x="-7" y="-1.20" width="14" height="2.00" fill="#f0404c"/>
<rect x="-7" y="3.40" width="14" height="2.00" fill="#f0404c"/>
<rect x="-7" y="-7" width="8.4" height="8.2" fill="#4a8df0"/>
<rect x="-4.90" y="-4.60" width="0.9" height="0.8" fill="#dce9ff"/>
<rect x="-2.90" y="-4.60" width="0.9" height="0.8" fill="#dce9ff"/>
<rect x="-0.90" y="-4.60" width="0.9" height="0.8" fill="#dce9ff"/>
<rect x="-4.90" y="-2.70" width="0.9" height="0.8" fill="#dce9ff"/>
<rect x="-2.90" y="-2.70" width="0.9" height="0.8" fill="#dce9ff"/>
<rect x="-0.90" y="-2.70" width="0.9" height="0.8" fill="#dce9ff"/>
<rect x="-4.90" y="-0.80" width="0.9" height="0.8" fill="#dce9ff"/>
<rect x="-2.90" y="-0.80" width="0.9" height="0.8" fill="#dce9ff"/>
<rect x="-0.90" y="-0.80" width="0.9" height="0.8" fill="#dce9ff"/>
</g></g>
</svg>
</body></html>
